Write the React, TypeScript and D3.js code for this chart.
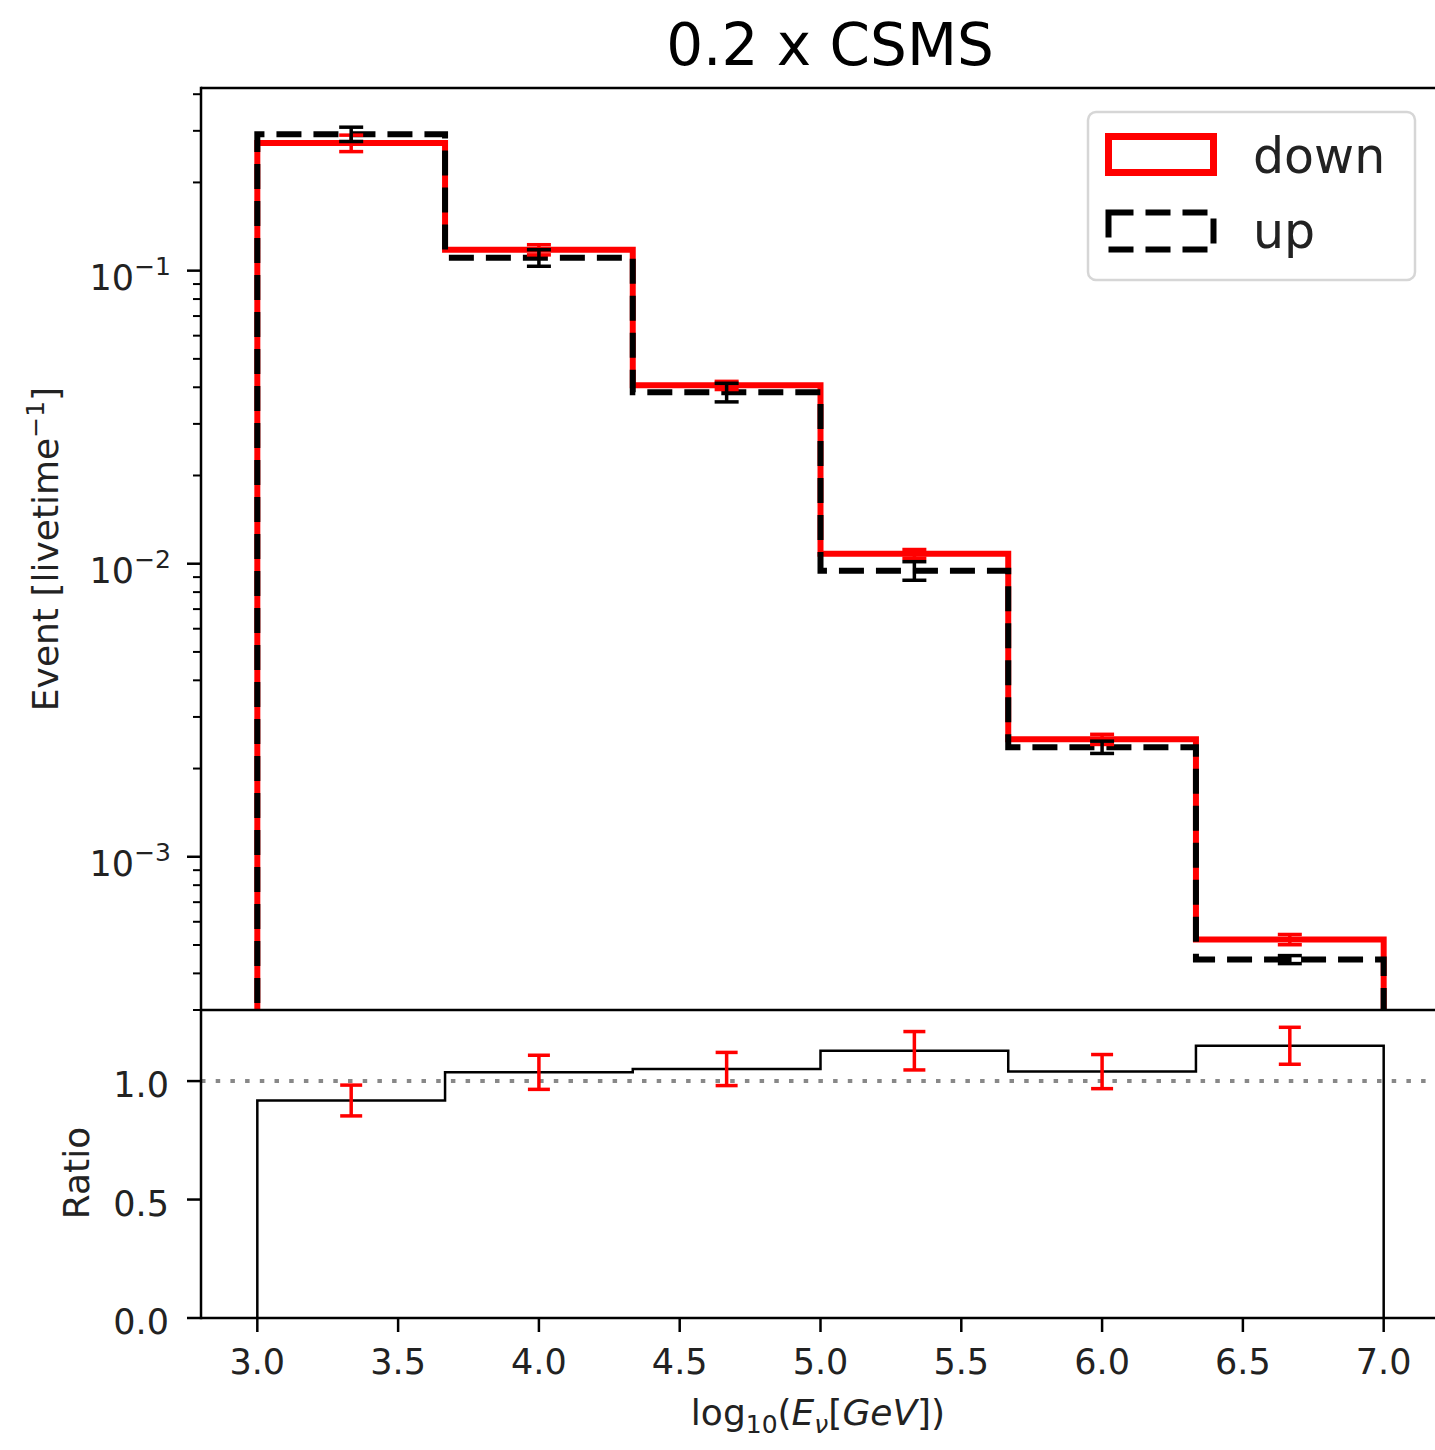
import React, { useEffect, useRef } from "react";
import * as d3 from "d3";

// bin edges of log10(E) histogram
const binEdges = [3.0, 3.6667, 4.3333, 5.0, 5.6667, 6.3333, 7.0];

const downValues = [0.2724, 0.1179, 0.0406, 0.01081, 0.002517, 0.000522];
const downErrors = [0.0176, 0.0047, 0.0013, 0.00037, 0.0001, 0.000021];
const upValues = [0.2923, 0.1107, 0.03846, 0.00947, 0.002366, 0.000446];
const upErrors = [0.0164, 0.0072, 0.0028, 0.00069, 0.000114, 0.000014];

const ratioValues = [0.918, 1.037, 1.051, 1.128, 1.04, 1.149];
const ratioErrors = [0.065, 0.072, 0.07, 0.081, 0.072, 0.078];

const xTicks = [3.0, 3.5, 4.0, 4.5, 5.0, 5.5, 6.0, 6.5, 7.0];
const logMajorTicks = [1e-1, 1e-2, 1e-3];
const logMajorExponents = ["\u22121", "\u22122", "\u22123"];
const ratioTicks = [0.0, 0.5, 1.0];

const title = "0.2 x CSMS";
const legendLabels = ["down", "up"];

const FONT = "DejaVu Sans, sans-serif";

export default function App() {
  const svgRef = useRef(null);

  useEffect(() => {
    const width = 1435;
    const height = 1450;
    const left = 201;
    const right = 1440;
    const top = 88;
    const split = 1010;
    const bottom = 1318;

    const svg = d3.select(svgRef.current)
      .attr("width", width)
      .attr("height", height);
    svg.selectAll("*").remove();

    svg.append("rect").attr("width", width).attr("height", height).attr("fill", "#fff");

    const x = d3.scaleLinear().domain([2.8, 7.2]).range([left, right]);
    const y = d3.scaleLog().domain([3e-4, 0.42]).range([split, top]);
    const yr = d3.scaleLinear().domain([0, 1.3]).range([bottom, split]);

    const centers = binEdges.slice(0, -1).map((e, i) => (e + binEdges[i + 1]) / 2);

    const stepPts = (vals) => [
      [binEdges[0], null],
      ...vals.map((v, i) => [binEdges[i], v]),
      [binEdges[binEdges.length - 1], vals[vals.length - 1]],
      [binEdges[binEdges.length - 1], null],
    ];

    // ---- top panel ----
    svg.append("clipPath").attr("id", "topClip")
      .append("rect").attr("x", left).attr("y", top)
      .attr("width", right - left).attr("height", split - top);

    const topG = svg.append("g").attr("clip-path", "url(#topClip)");

    const topLine = d3.line()
      .curve(d3.curveStepAfter)
      .x(d => x(d[0]))
      .y(d => (d[1] == null ? split + 30 : y(d[1])));

    topG.append("path")
      .attr("d", topLine(stepPts(downValues)))
      .attr("fill", "none")
      .attr("stroke", "#ff0000")
      .attr("stroke-width", 6)
      .attr("stroke-linejoin", "miter");

    topG.append("path")
      .attr("d", topLine(stepPts(upValues)))
      .attr("fill", "none")
      .attr("stroke", "#000")
      .attr("stroke-width", 6)
      .attr("stroke-dasharray", "25,12");

    const errorBars = (g, vals, errs, sy, color, cap) => {
      vals.forEach((v, i) => {
        const cx = x(centers[i]);
        const y0 = sy(v - errs[i]);
        const y1 = sy(v + errs[i]);
        g.append("line").attr("x1", cx).attr("x2", cx).attr("y1", y0).attr("y2", y1)
          .attr("stroke", color).attr("stroke-width", 3.5);
        [y0, y1].forEach(yy => {
          g.append("line").attr("x1", cx - cap / 2).attr("x2", cx + cap / 2)
            .attr("y1", yy).attr("y2", yy)
            .attr("stroke", color).attr("stroke-width", 3.5);
        });
      });
    };

    errorBars(topG, downValues, downErrors, y, "#ff0000", 24);
    errorBars(topG, upValues, upErrors, y, "#000", 24);

    // log y ticks
    const minorTicks = [];
    [-4, -3, -2, -1].forEach(e => {
      for (let k = 2; k <= 9; k++) {
        const v = k * Math.pow(10, e);
        if (v >= 2.99e-4 && v <= 0.42) minorTicks.push(v);
      }
    });
    minorTicks.forEach(v => {
      svg.append("line").attr("x1", left - 8).attr("x2", left)
        .attr("y1", y(v)).attr("y2", y(v)).attr("stroke", "#000").attr("stroke-width", 2);
    });
    logMajorTicks.forEach((v, i) => {
      const ty = y(v);
      svg.append("line").attr("x1", left - 14).attr("x2", left)
        .attr("y1", ty).attr("y2", ty).attr("stroke", "#000").attr("stroke-width", 2.5);
      const t = svg.append("text")
        .attr("x", left - 30).attr("y", ty + 19)
        .attr("text-anchor", "end")
        .attr("font-family", FONT).attr("font-size", 35).attr("fill", "#222");
      t.append("tspan").text("10");
      t.append("tspan").attr("dy", -15).attr("font-size", 25).text(logMajorExponents[i]);
    });

    const ylab = svg.append("text")
      .attr("transform", `translate(58, ${(top + split) / 2}) rotate(-90)`)
      .attr("text-anchor", "middle")
      .attr("font-family", FONT).attr("font-size", 36).attr("fill", "#222");
    ylab.append("tspan").text("Event [livetime");
    ylab.append("tspan").attr("dy", -14).attr("font-size", 25).text("\u22121");
    ylab.append("tspan").attr("dy", 14).text("]");

    // ---- ratio panel ----
    svg.append("line")
      .attr("x1", left).attr("x2", right)
      .attr("y1", yr(1)).attr("y2", yr(1))
      .attr("stroke", "#888").attr("stroke-width", 4)
      .attr("stroke-dasharray", "4.5,10.2");

    const ratioLine = d3.line()
      .curve(d3.curveStepAfter)
      .x(d => x(d[0]))
      .y(d => (d[1] == null ? yr(0) : yr(d[1])));

    svg.append("path")
      .attr("d", ratioLine(stepPts(ratioValues)))
      .attr("fill", "none")
      .attr("stroke", "#000")
      .attr("stroke-width", 2.5);

    errorBars(svg.append("g"), ratioValues, ratioErrors, yr, "#ff0000", 22);

    ratioTicks.forEach(v => {
      svg.append("line").attr("x1", left - 14).attr("x2", left)
        .attr("y1", yr(v)).attr("y2", yr(v)).attr("stroke", "#000").attr("stroke-width", 2.5);
      svg.append("text")
        .attr("x", left - 32).attr("y", yr(v) + 16)
        .attr("text-anchor", "end")
        .attr("font-family", FONT).attr("font-size", 35).attr("fill", "#222")
        .text(d3.format(".1f")(v));
    });

    xTicks.forEach(v => {
      svg.append("line").attr("x1", x(v)).attr("x2", x(v))
        .attr("y1", bottom).attr("y2", bottom + 14).attr("stroke", "#000").attr("stroke-width", 2.5);
      svg.append("text")
        .attr("x", x(v)).attr("y", bottom + 56)
        .attr("text-anchor", "middle")
        .attr("font-family", FONT).attr("font-size", 35).attr("fill", "#222")
        .text(d3.format(".1f")(v));
    });

    svg.append("text")
      .attr("transform", `translate(89, 1173) rotate(-90)`)
      .attr("text-anchor", "middle")
      .attr("font-family", FONT).attr("font-size", 36).attr("fill", "#222")
      .text("Ratio");

    const xlab = svg.append("text")
      .attr("x", 818).attr("y", 1425)
      .attr("text-anchor", "middle")
      .attr("font-family", FONT).attr("font-size", 36).attr("fill", "#222");
    xlab.append("tspan").text("log");
    xlab.append("tspan").attr("dy", 8).attr("font-size", 25).text("10");
    xlab.append("tspan").attr("dy", -8).text("(");
    xlab.append("tspan").attr("font-style", "italic").text("E");
    xlab.append("tspan").attr("dy", 8).attr("font-size", 25).attr("font-style", "italic").text("\u03bd");
    xlab.append("tspan").attr("dy", -8).text("[");
    xlab.append("tspan").attr("font-style", "italic").text("GeV");
    xlab.append("tspan").text("])");

    // ---- spines ----
    const spine = (x1, y1, x2, y2) => svg.append("line")
      .attr("x1", x1).attr("y1", y1).attr("x2", x2).attr("y2", y2)
      .attr("stroke", "#000").attr("stroke-width", 2.5);
    spine(left, top, right, top);
    spine(left, split, right, split);
    spine(left, bottom, right, bottom);
    spine(left, top - 1.25, left, bottom + 1.25);

    // ---- title ----
    svg.append("text")
      .attr("x", 830).attr("y", 65)
      .attr("text-anchor", "middle")
      .attr("font-family", FONT).attr("font-size", 58).attr("fill", "#000")
      .text(title);

    // ---- legend ----
    const lg = svg.append("g");
    lg.append("rect")
      .attr("x", 1088).attr("y", 112).attr("width", 327).attr("height", 168)
      .attr("rx", 8).attr("fill", "#fff").attr("fill-opacity", 0.8)
      .attr("stroke", "#d6d6d6").attr("stroke-width", 2.5);
    lg.append("rect")
      .attr("x", 1108.5).attr("y", 136.5).attr("width", 105).attr("height", 36)
      .attr("fill", "none").attr("stroke", "#ff0000").attr("stroke-width", 7);
    lg.append("rect")
      .attr("x", 1108.5).attr("y", 212.5).attr("width", 105).attr("height", 37)
      .attr("fill", "none").attr("stroke", "#000").attr("stroke-width", 6)
      .attr("stroke-dasharray", "25,12");
    legendLabels.forEach((lab, i) => {
      lg.append("text")
        .attr("x", 1253).attr("y", 173 + i * 75)
        .attr("font-family", FONT).attr("font-size", 49).attr("fill", "#222")
        .text(lab);
    });
  }, []);

  return (
    <svg ref={svgRef} style={{ position: "absolute", left: 0, top: 0, display: "block" }}></svg>
  );
}
